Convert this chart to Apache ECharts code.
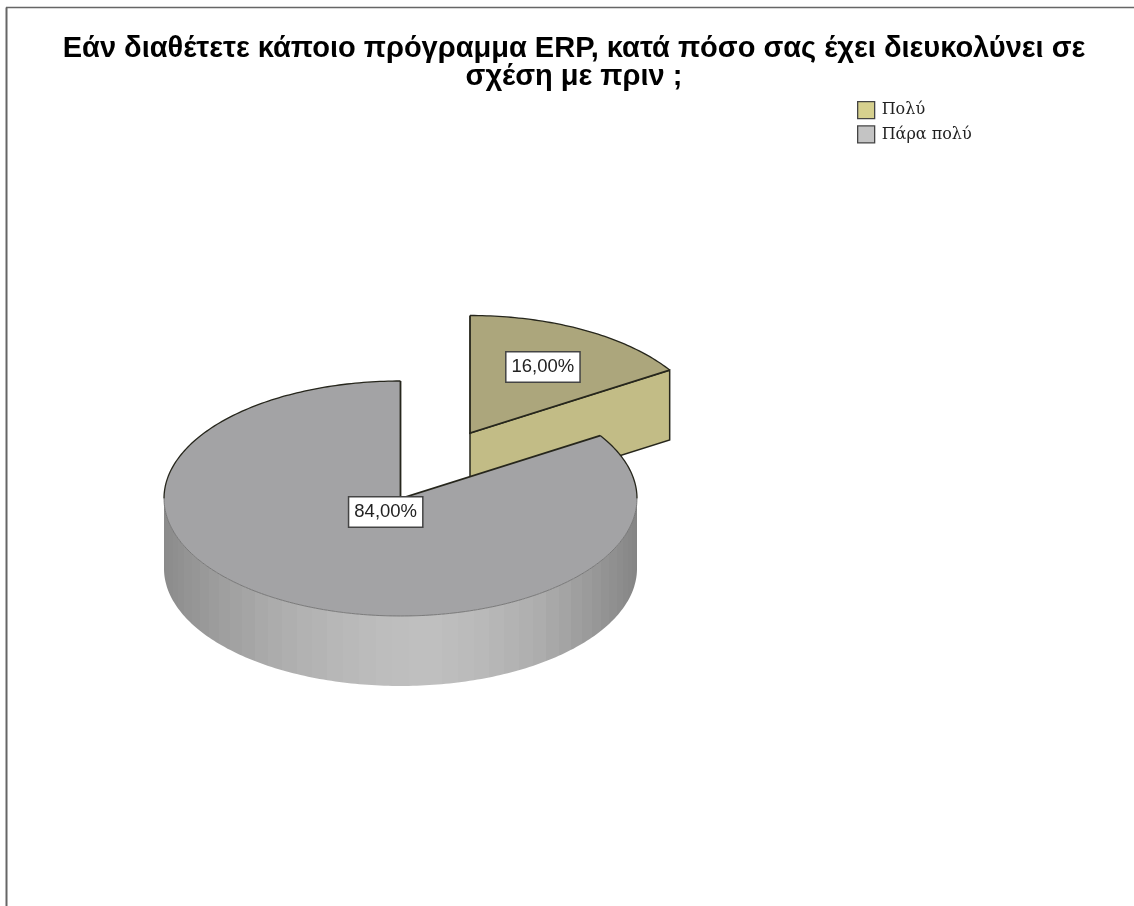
<!DOCTYPE html>
<html><head><meta charset="utf-8">
<style>html,body{margin:0;padding:0;background:#fff}#c{width:1134px;height:906px}</style>
<script src="https://cdn.jsdelivr.net/npm/echarts@6/dist/echarts.min.js"></script>
</head><body><div id="c"></div>
<script>
const titleText = 'Εάν διαθέτετε κάποιο πρόγραμμα ERP, κατά πόσο σας έχει διευκολύνει σε\nσχέση με πριν ;';
const categories = ['Πολύ', 'Πάρα πολύ'];
const values = [16, 84];

// pie geometry and styling (not data)
const pie = { cx: 400.5, cy: 498.5, rx: 236.5, ry: 117.5, depth: 70 };
const offsets = [[69.5, -65.5], [0, 0]];
const labelRadius = [0.64, 0.13];
const topColors = ['#aca67c', '#a3a3a5'];
const wallColors = ['#c2bc86', null];
const legendColors = ['#d6d08e', '#c4c4c4'];
const edge = '#26261c';
// wall shade (grey level) by horizontal position across the cylinder
const wallShade = [[0,138],[0.05,148],[0.12,158],[0.2,168],[0.3,178],[0.42,187],[0.55,192],[0.68,185],[0.8,172],[0.9,154],[0.96,142],[1,132]];

function shadeAt(t) {
  for (let i = 1; i < wallShade.length; i++) {
    if (t <= wallShade[i][0]) {
      const p = wallShade[i - 1], q = wallShade[i];
      return p[1] + (q[1] - p[1]) * (t - p[0]) / (q[0] - p[0]);
    }
  }
  return wallShade[wallShade.length - 1][1];
}
// flat facets of equal angle, as in the faceted cylinder of the reference
function facetStops(stepDeg) {
  const stops = [];
  for (let d = 0; d < 180; d += stepDeg) {
    const t0 = (1 - Math.cos(d * Math.PI / 180)) / 2;
    const t1 = (1 - Math.cos((d + stepDeg) * Math.PI / 180)) / 2;
    const g = Math.round(shadeAt((t0 + t1) / 2));
    const color = 'rgb(' + g + ',' + g + ',' + g + ')';
    stops.push({ offset: t0, color }, { offset: t1, color });
  }
  return stops;
}

const total = values.reduce((a, b) => a + b, 0);
const rad = d => d * Math.PI / 180;
function at(deg, ox, oy, dz) {
  return [pie.cx + ox + pie.rx * Math.sin(rad(deg)), pie.cy + oy - pie.ry * Math.cos(rad(deg)) + (dz || 0)];
}
function arc(a, b, ox, oy, dz) {
  const n = Math.max(2, Math.ceil(Math.abs(b - a))), pts = [];
  for (let i = 0; i <= n; i++) pts.push(at(a + (b - a) * i / n, ox, oy, dz));
  return pts;
}
function renderSlice(idx) {
  return function (params, api) {
    const v = api.value(0);
    let before = 0;
    for (let i = 0; i < idx; i++) before += values[i];
    const a = before / total * 360, b = (before + v) / total * 360;
    const ox = offsets[idx][0], oy = offsets[idx][1];
    const apex = [pie.cx + ox, pie.cy + oy];
    const children = [];
    const wallFill = wallColors[idx] || new echarts.graphic.LinearGradient(pie.cx - pie.rx, 0, pie.cx + pie.rx, 0, facetStops(4), true);
    // outer wall (front half only)
    const wa = Math.max(a, 90), wb = Math.min(b, 270);
    if (wb > wa) {
      const upper = arc(wa, wb, ox, oy, 0), lower = arc(wb, wa, ox, oy, pie.depth);
      children.push({ type: 'polygon', shape: { points: upper.concat(lower) }, style: { fill: wallFill, stroke: null } });
    }
    // radial wall at the clockwise end if it faces the viewer
    if (Math.cos(rad(b + 90)) < -0.001) {
      const p = at(b, ox, oy, 0);
      const pts = [apex, p, [p[0], p[1] + pie.depth], [apex[0], apex[1] + pie.depth]];
      children.push({ type: 'polygon', shape: { points: pts }, style: { fill: wallFill, stroke: edge, lineWidth: 1.5 } });
    }
    // top face
    const rim = arc(a, b, ox, oy, 0);
    children.push({ type: 'polygon', shape: { points: [apex].concat(rim) }, style: { fill: topColors[idx], stroke: null } });
    // rim lines: dark on the back half, thin on the front
    if (a < 90) children.push({ type: 'polyline', shape: { points: arc(a, Math.min(b, 90), ox, oy, 0) }, style: { fill: null, stroke: edge, lineWidth: 1.3 } });
    if (b > 270) children.push({ type: 'polyline', shape: { points: arc(Math.max(a, 270), b, ox, oy, 0) }, style: { fill: null, stroke: edge, lineWidth: 1.3 } });
    if (wb > wa) children.push({ type: 'polyline', shape: { points: arc(wa, wb, ox, oy, 0) }, style: { fill: null, stroke: '#6a6a6a', lineWidth: 0.8 } });
    // radial edges
    children.push({ type: 'polyline', shape: { points: [at(a, ox, oy, 0), apex, at(b, ox, oy, 0)] }, style: { fill: null, stroke: edge, lineWidth: 1.8 } });
    // value label
    const mid = (a + b) / 2, k = labelRadius[idx];
    children.push({
      type: 'text', z2: 10,
      style: {
        x: apex[0] + k * pie.rx * Math.sin(rad(mid)),
        y: apex[1] - k * pie.ry * Math.cos(rad(mid)),
        text: v.toFixed(2).replace('.', ',') + '%',
        font: '18.5px "Liberation Sans"', fill: '#222',
        align: 'center', verticalAlign: 'middle',
        backgroundColor: '#fff', borderColor: '#444', borderWidth: 1.5,
        padding: [5, 5, 5, 5]
      }
    });
    return { type: 'group', children };
  };
}

const chart = echarts.init(document.getElementById('c'), null, { renderer: 'canvas' });
chart.setOption({
  animation: false,
  backgroundColor: '#fff',
  title: {
    text: titleText, left: 574, top: 35, textAlign: 'center', padding: 0,
    textStyle: { fontFamily: 'Liberation Sans', fontWeight: 'bold', fontSize: 29, lineHeight: 28, color: '#000' }
  },
  legend: {
    orient: 'vertical', left: 857, top: 101, itemWidth: 17, itemHeight: 17, itemGap: 6, padding: 0,
    selectedMode: false,
    textStyle: { fontFamily: 'DejaVu Serif', fontSize: 16, color: '#222', padding: [0, 0, 0, 2] },
    data: categories.map((c, i) => ({ name: c, icon: 'rect', itemStyle: { color: legendColors[i], borderColor: '#444', borderWidth: 1.3 } }))
  },
  graphic: [
    { type: 'line', silent: true, shape: { x1: 6.5, y1: 7.5, x2: 6.5, y2: 906 }, style: { stroke: '#666', lineWidth: 2 } },
    { type: 'line', silent: true, shape: { x1: 6, y1: 7.5, x2: 1134, y2: 7.5 }, style: { stroke: '#666', lineWidth: 1.5 } }
  ],
  series: categories.map((c, i) => ({
    name: c, type: 'custom', coordinateSystem: 'none', silent: true,
    renderItem: renderSlice(i), data: [[values[i]]],
    itemStyle: { color: legendColors[i] }
  }))
});
</script></body></html>
